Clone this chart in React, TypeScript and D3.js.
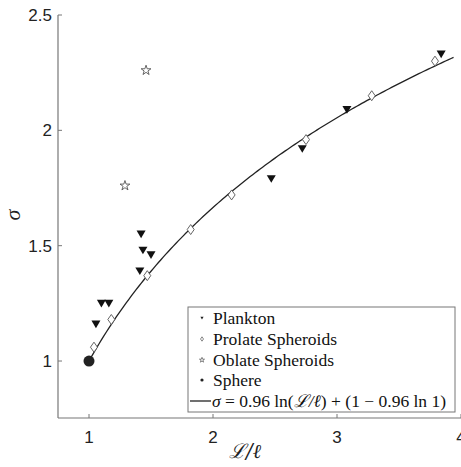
import React, { useEffect, useRef } from 'react'
import * as d3 from 'd3'

// L/l and sigma values
const planktonX = [1.056, 1.10, 1.16, 1.41, 1.42, 1.435, 1.50, 2.47, 2.72, 3.08, 3.84]
const planktonY = [1.16, 1.25, 1.25, 1.39, 1.55, 1.48, 1.46, 1.79, 1.92, 2.09, 2.33]
const prolateX = [1.04, 1.18, 1.47, 1.82, 2.15, 2.75, 3.28, 3.79]
const prolateY = [1.06, 1.18, 1.37, 1.57, 1.72, 1.96, 2.15, 2.30]
const oblateX = [1.46, 1.29]
const oblateY = [2.26, 1.76]
const sphereX = [1]
const sphereY = [1]
const fitCoef = 0.96
const fitRange = [1, 3.95]
const xTicks = [1, 2, 3, 4]
const yTicks = [1, 1.5, 2, 2.5]
const legendLabels = ['Plankton', 'Prolate Spheroids', 'Oblate Spheroids', 'Sphere']

const W = 461
const H = 467

const App = () => {
  const ref = useRef<SVGSVGElement>(null)

  useEffect(() => {
    const svg = d3.select(ref.current)
    svg.selectAll('*').remove()

    const x = d3.scaleLinear().domain([0.75, 4]).range([58, 461])
    const y = d3.scaleLinear().domain([0.753, 2.5]).range([418, 15])
    const axisColor = '#777'

    // axes
    svg.append('line').attr('x1', x(0.75)).attr('x2', x(4)).attr('y1', y(0.753)).attr('y2', y(0.753))
      .attr('stroke', axisColor).attr('stroke-width', 1.2)
    svg.append('line').attr('x1', x(0.75)).attr('x2', x(0.75)).attr('y1', y(0.753)).attr('y2', y(2.5))
      .attr('stroke', axisColor).attr('stroke-width', 1.2)

    xTicks.forEach(t => {
      svg.append('line').attr('x1', x(t)).attr('x2', x(t)).attr('y1', y(0.753)).attr('y2', y(0.753) - 4)
        .attr('stroke', axisColor)
      svg.append('text').text(t).attr('x', x(t)).attr('y', 443)
        .attr('text-anchor', 'middle').attr('font-family', 'Liberation Sans, Arial, sans-serif')
        .attr('font-size', 17).attr('fill', '#222')
    })
    yTicks.forEach(t => {
      svg.append('line').attr('x1', x(0.75)).attr('x2', x(0.75) + 4).attr('y1', y(t)).attr('y2', y(t))
        .attr('stroke', axisColor)
      svg.append('text').text(t).attr('x', 52).attr('y', y(t) + 6)
        .attr('text-anchor', 'end').attr('font-family', 'Liberation Sans, Arial, sans-serif')
        .attr('font-size', 17).attr('fill', '#222')
    })

    // axis labels
    svg.append('text').text('ℒ/ℓ').attr('x', 245).attr('y', 458)
      .attr('text-anchor', 'middle').attr('font-family', 'DejaVu Serif, serif')
      .attr('font-style', 'italic').attr('font-size', 20).attr('fill', '#222')
    svg.append('text').text('σ').attr('transform', 'translate(20,215) rotate(-90)')
      .attr('text-anchor', 'middle').attr('font-family', 'Liberation Serif, serif')
      .attr('font-style', 'italic').attr('font-size', 22).attr('fill', '#222')

    // fit curve
    const fitXs = d3.range(fitRange[0], fitRange[1] + 0.001, 0.02)
    const line = d3.line<number>().x(d => x(d)).y(d => y(fitCoef * Math.log(d) + (1 - fitCoef * Math.log(1))))
    svg.append('path').attr('d', line(fitXs)).attr('fill', 'none').attr('stroke', '#222').attr('stroke-width', 1.3)

    const tri = (s: number) => `M${-s},${-s * 0.8}L${s},${-s * 0.8}L0,${s * 0.9}Z`
    const diamond = (w: number, h: number) => `M0,${-h}L${w},0L0,${h}L${-w},0Z`
    const star = d3.symbol(d3.symbolStar, 30)()

    planktonX.forEach((v, i) => {
      svg.append('path').attr('d', tri(4.5)).attr('transform', `translate(${x(v)},${y(planktonY[i])})`)
        .attr('fill', '#111')
    })
    prolateX.forEach((v, i) => {
      svg.append('path').attr('d', diamond(3.5, 5)).attr('transform', `translate(${x(v)},${y(prolateY[i])})`)
        .attr('fill', 'white').attr('stroke', '#555').attr('stroke-width', 0.9)
    })
    oblateX.forEach((v, i) => {
      svg.append('path').attr('d', star).attr('transform', `translate(${x(v)},${y(oblateY[i])})`)
        .attr('fill', 'white').attr('stroke', '#555').attr('stroke-width', 0.9)
    })
    sphereX.forEach((v, i) => {
      svg.append('circle').attr('cx', x(v)).attr('cy', y(sphereY[i])).attr('r', 5.5).attr('fill', '#222')
    })

    // legend
    const lg = svg.append('g')
    lg.append('rect').attr('x', 188).attr('y', 307).attr('width', 267).attr('height', 105)
      .attr('fill', 'white').attr('stroke', '#777').attr('stroke-width', 1)
    const rowY = [318, 339, 360, 380, 401]
    const font = 'Liberation Serif, serif'
    legendLabels.forEach((lab, i) => {
      const cy = rowY[i]
      const g = lg.append('g').attr('transform', `translate(202,${cy})`)
      if (i === 0) g.append('path').attr('d', tri(1.6)).attr('fill', '#222')
      if (i === 1) g.append('path').attr('d', diamond(1.5, 2.2)).attr('fill', 'white').attr('stroke', '#555').attr('stroke-width', 0.7)
      if (i === 2) g.append('path').attr('d', d3.symbol(d3.symbolStar, 8)()).attr('fill', 'white').attr('stroke', '#555').attr('stroke-width', 0.7)
      if (i === 3) g.append('circle').attr('r', 1.6).attr('fill', '#222')
      lg.append('text').text(lab).attr('x', 213).attr('y', cy + 6)
        .attr('font-family', font).attr('font-size', 17.5).attr('fill', '#111')
    })
    lg.append('line').attr('x1', 190).attr('x2', 211).attr('y1', rowY[4]).attr('y2', rowY[4])
      .attr('stroke', '#222').attr('stroke-width', 1.3)
    const eq = lg.append('text').attr('x', 212).attr('y', rowY[4] + 6)
      .attr('font-family', font).attr('font-size', 17.5).attr('fill', '#111')
    eq.append('tspan').text('σ').attr('font-style', 'italic')
    eq.append('tspan').text(' = 0.96 ln(')
    eq.append('tspan').text('ℒ/ℓ').attr('font-style', 'italic')
    eq.append('tspan').text(') + (1 − 0.96 ln 1)')
  }, [])

  return (
    <svg ref={ref} width={W} height={H} style={{ position: 'absolute', left: 0, top: 0, background: 'white' }} />
  )
}

export default App
